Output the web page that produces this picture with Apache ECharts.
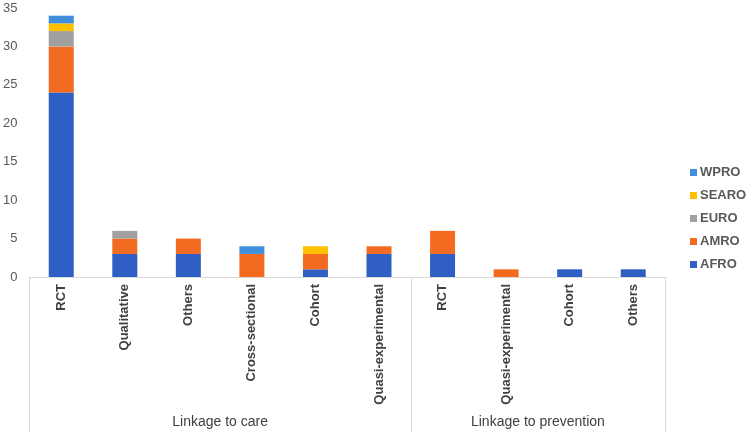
<!DOCTYPE html>
<html>
<head>
<meta charset="utf-8">
<script src="https://cdn.jsdelivr.net/npm/echarts@6/dist/echarts.min.js"></script>
<style>
  html, body { margin: 0; padding: 0; background: #fff; }
  #chart { width: 748px; height: 432px; }
</style>
</head>
<body>
<div id="chart"></div>
<script>
// study designs, grouped by outcome
const categories = ['RCT', 'Qualitative', 'Others', 'Cross-sectional', 'Cohort', 'Quasi-experimental',
                    'RCT', 'Quasi-experimental', 'Cohort', 'Others']
const groups = ['Linkage to care', 'Linkage to prevention']
const groupBounds = [0, 6, 10]
const groupCenters = [3, 8]

// counts per WHO region
const afro  = [24, 3, 3, 0, 1, 3, 3, 0, 1, 1]
const amro  = [6, 2, 2, 3, 2, 1, 3, 1, 0, 0]
const euro  = [2, 1, 0, 0, 0, 0, 0, 0, 0, 0]
const searo = [1, 0, 0, 0, 1, 0, 0, 0, 0, 0]
const wpro  = [1, 0, 0, 1, 0, 0, 0, 0, 0, 0]

const yTicks = [0, 5, 10, 15, 20, 25, 30, 35]

const colors = {
  AFRO: '#2f5fc4',
  AMRO: '#f26b21',
  EURO: '#a0a0a0',
  SEARO: '#ffc000',
  WPRO: '#3f8fdc'
}

const myChart = echarts.init(document.getElementById('chart'))

function bar(name, values) {
  return {
    name: name,
    type: 'bar',
    stack: 'total',
    barWidth: 25,
    itemStyle: { color: colors[name] },
    data: values.map(v => (v === 0 ? null : v))
  }
}

const option = {
  animation: false,
  textStyle: { fontFamily: 'Liberation Sans, Arial, sans-serif' },
  grid: { left: 27, right: 83, top: 8, bottom: 155 },
  legend: {
    orient: 'vertical',
    left: 685,
    top: 161,
    itemWidth: 7,
    itemHeight: 7,
    itemGap: 10,
    icon: 'rect',
    data: ['WPRO', 'SEARO', 'EURO', 'AMRO', 'AFRO'],
    textStyle: { color: '#595959', fontSize: 13, fontWeight: 'bold', padding: [0, 0, 0, -2] }
  },
  xAxis: [
    {
      type: 'category',
      data: categories,
      axisLine: { lineStyle: { color: '#d9d9d9' } },
      axisTick: { show: false },
      axisLabel: {
        rotate: 90,
        interval: 0,
        margin: 7,
        color: '#404040',
        fontSize: 13,
        fontWeight: 'bold'
      }
    },
    {
      type: 'value',
      position: 'bottom',
      min: 0,
      max: 10,
      interval: 1,
      axisLine: { show: false },
      splitLine: { show: false },
      axisTick: {
        show: true,
        customValues: groupBounds,
        length: 156,
        lineStyle: { color: '#d9d9d9' }
      },
      axisLabel: {
        customValues: groupCenters,
        margin: 138,
        color: '#404040',
        fontSize: 14,
        formatter: v => groups[groupCenters.indexOf(v)]
      }
    }
  ],
  yAxis: {
    type: 'value',
    min: yTicks[0],
    max: yTicks[yTicks.length - 1],
    interval: 5,
    axisLine: { show: false },
    axisTick: { show: false },
    splitLine: { show: false },
    axisLabel: { color: '#595959', fontSize: 13, margin: 12 }
  },
  series: [
    bar('AFRO', afro),
    bar('AMRO', amro),
    bar('EURO', euro),
    bar('SEARO', searo),
    bar('WPRO', wpro)
  ]
}

myChart.setOption(option)
</script>
</body>
</html>
